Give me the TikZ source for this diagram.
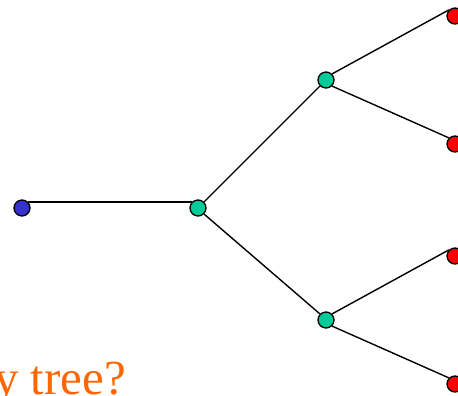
\documentclass[tikz,border=0pt]{standalone}
\usepackage{fontspec}
\setmainfont{Liberation Serif}
\usetikzlibrary{positioning}
\definecolor{rootblue}{RGB}{51,51,204}
\definecolor{innergreen}{RGB}{0,204,153}
\definecolor{leafred}{RGB}{255,0,0}
\definecolor{titleorange}{RGB}{255,102,0}
\tikzset{
  vertex/.style={circle, draw=black, line width=1.3pt, minimum size=16pt, inner sep=0pt},
  edge/.style={line width=1.4pt}
}

\begin{document}
\begin{tikzpicture}[x=1pt, y=-1pt]
                  % picture frame
                  \clip (0,0) rectangle (458,396);
                  \useasboundingbox (0,0) rectangle (458,396);

                  % vertices
                  \node[vertex, fill=rootblue] (root) at (22,208) {};
                  \node[vertex, fill=innergreen] (mid) at (198,208) {};
                  \node[vertex, fill=innergreen] (up) at (326,80) {};
                  \node[vertex, fill=innergreen] (down) at (326,320) {};
                  \foreach \name/\y in {leafa/16, leafb/144, leafc/256, leafd/384}
                  \node[vertex, fill=leafred] (\name) at (455,\y) {};

                  % edges
                  \draw[edge] (root.north east) -- (mid.north west);
                  \draw[edge] (mid.north east) -- (up.south west);
                  \draw[edge] (mid.south east) -- (down.north west);
                  \foreach \from/\to in {up/leafa, down/leafc}
                  \draw[edge] (\from.north east) -- (\to.north west);
                  \foreach \from/\to in {up/leafb, down/leafd}
                  \draw[edge] (\from.south east) -- (\to.north west);

                  % title, cut off by the frame
                  \node[anchor=base west, inner sep=0pt, text=titleorange, font=\fontsize{49}{52}\selectfont] (title) at (-6,394) {y tree?};

              \end{tikzpicture}
\end{document}
